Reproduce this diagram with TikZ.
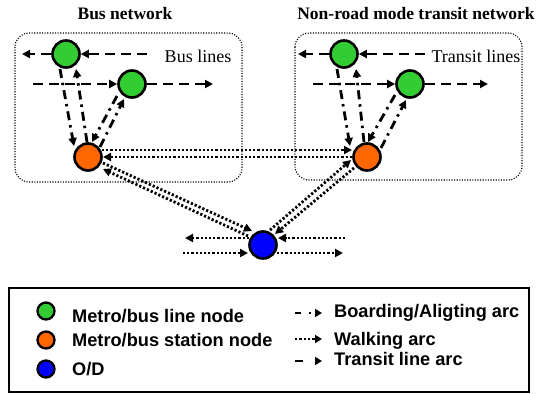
\documentclass[tikz,border=0pt]{standalone}
\usepackage{fontspec}
\setmainfont{Liberation Serif}
\newfontfamily\legendfont{Liberation Sans}
\usetikzlibrary{arrows.meta,calc}
\definecolor{cgreen}{RGB}{51,204,51}
\definecolor{corange}{RGB}{255,102,0}
\definecolor{cblue}{RGB}{0,0,255}
\begin{document}
\begin{tikzpicture}[x=1pt,y=-1pt,
  netnode/.style={circle,draw=black,line width=2.6pt,minimum size=27pt,inner sep=0pt},
  gnode/.style={netnode,fill=cgreen},
  onode/.style={netnode,fill=corange},
  odnode/.style={netnode,fill=cblue},
  lgnode/.style={circle,draw=black,line width=2.3pt,minimum size=17pt,inner sep=0pt},
  tipA/.style={-{Triangle[length=8pt,width=8pt]}},
  tline/.style={tipA,line width=2.8pt,dash pattern=on 10pt off 6pt},
  bline/.style={tipA,line width=2.8pt,dash pattern=on 9pt off 5pt on 2.5pt off 5pt},
  wline/.style={tipA,line width=2.8pt,dash pattern=on 2.2pt off 2pt},
  netbox/.style={line width=1.1pt,dash pattern=on 1.1pt off 1.5pt,rounded corners=14pt},
  titletext/.style={font=\fontsize{17.5}{20}\selectfont\bfseries,anchor=base,inner sep=0pt},
  linetext/.style={font=\fontsize{18}{20}\selectfont,anchor=base,inner sep=0pt},
  legtext/.style={font=\legendfont\bfseries\fontsize{18.2}{20}\selectfont,anchor=base west,inner sep=0pt},
  legarrow/.style={-{Triangle[length=7pt,width=8pt]},line width=2.3pt}
]
\useasboundingbox (0,0) rectangle (539,394);

% titles and boxes
\node[titletext] (t1) at (125,19) {Bus network};
\node[titletext] (t2) at (416,19) {Non-road mode transit network};
\draw[netbox] (15,33) rectangle (242,182);
\draw[netbox] (295,33) rectangle (522,180);
\node[linetext] (bl) at (198,62) {Bus lines};
\node[linetext] (tl) at (476,62) {Transit lines};

% nodes
\node[gnode] (G1) at (66,54) {};
\node[gnode] (G2) at (132,84) {};
\node[onode] (BO) at (88,157) {};
\node[gnode] (T1) at (344,54) {};
\node[gnode] (T2) at (410,84) {};
\node[onode] (TO) at (367,157) {};
\node[odnode] (OD) at (263,245) {};

% free ends of transit lines
\coordinate (b1s) at (147,54);
\coordinate (b1e) at (22,54);
\coordinate (b2s) at (33,84);
\coordinate (b2e) at (213,84);
\coordinate (t1s) at (425,54);
\coordinate (t1e) at (298,54);
\coordinate (t2s) at (313,84);
\coordinate (t2e) at (488,84);

\draw[tline] (b1s) -- (G1);
\draw[tline] (G1) -- (b1e);
\draw[tline] (b2s) -- (G2);
\draw[tline] (G2) -- (b2e);
\draw[tline] (t1s) -- (T1);
\draw[tline] (T1) -- (t1e);
\draw[tline] (t2s) -- (T2);
\draw[tline] (T2) -- (t2e);

% boarding / alighting arcs
\draw[bline] ($(G1)+(-6,15)$) -- ($(BO)+(-14,-11)$);
\draw[bline] ($(BO)+(-1,-15)$) -- ($(G1)+(10,15)$);
\draw[bline] ($(G2)+(-15,12)$) -- ($(BO)+(4,-15)$);
\draw[bline] ($(BO)+(12,-10)$) -- ($(G2)+(-8,15)$);
\draw[bline] ($(T1)+(-7,15)$) -- ($(TO)+(-17,-11)$);
\draw[bline] ($(TO)+(-3,-15)$) -- ($(T1)+(12,15)$);
\draw[bline] ($(T2)+(-15,11)$) -- ($(TO)+(1,-15)$);
\draw[bline] ($(TO)+(14,-9)$) -- ($(T2)+(-4,16)$);

% walking arcs
\draw[wline] ($(BO)+(14,-7)$) -- ($(TO)+(-15,-7)$);
\draw[wline] ($(TO)+(-15,0)$) -- ($(BO)+(15,0)$);
\draw[wline] ($(BO)+(15,6)$) -- ($(OD)+(-11,-14)$);
\draw[wline] ($(OD)+(-15,-9)$) -- ($(BO)+(15,12)$);
\draw[wline] ($(TO)+(-13,11)$) -- ($(OD)+(12,-11)$);
\draw[wline] ($(OD)+(7,-15)$) -- ($(TO)+(-16,3)$);

\coordinate (w1s) at (345,238);
\coordinate (w1e) at (185,238);
\coordinate (w2s) at (183,253);
\coordinate (w2e) at (343,253);
\draw[wline] (w1s) -- ($(OD)+(15,-7)$);
\draw[wline] ($(OD)+(-14,-7)$) -- (w1e);
\draw[wline] (w2s) -- ($(OD)+(-15,8)$);
\draw[wline] ($(OD)+(14,8)$) -- (w2e);

% legend
\draw[line width=1.2pt] (9,288) rectangle (529,392);
\node[lgnode,fill=cgreen] (L1) at (46,311) {};
\node[lgnode,fill=corange] (L2) at (46,340) {};
\node[lgnode,fill=cblue] (L3) at (46,369) {};
\node[legtext] (LT1) at (72,322) {Metro/bus line node};
\node[legtext] (LT2) at (72,346) {Metro/bus station node};
\node[legtext] (LT3) at (72,375) {O/D};
\coordinate (la1) at (295,313); \coordinate (lb1) at (322,313);
\coordinate (la2) at (295,339); \coordinate (lb2) at (322,339);
\coordinate (la3) at (295,361); \coordinate (lb3) at (322,361);
\draw[legarrow,dash pattern=on 6pt off 8pt on 2.3pt off 20pt] (la1) -- (lb1);
\draw[legarrow,dash pattern=on 2.3pt off 2pt] (la2) -- (lb2);
\draw[legarrow,dash pattern=on 8pt off 20pt] (la3) -- (lb3);
\node[legtext] (RT1) at (334,317) {Boarding/Aligting arc};
\node[legtext] (RT2) at (334,345) {Walking arc};
\node[legtext] (RT3) at (334,365) {Transit line arc};
\end{tikzpicture}
\end{document}
